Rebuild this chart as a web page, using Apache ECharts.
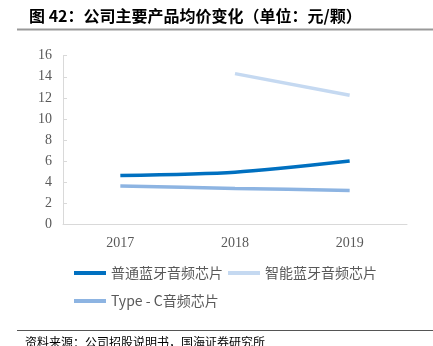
<!DOCTYPE html>
<html><head><meta charset="utf-8">
<script src="https://cdn.jsdelivr.net/npm/echarts@6/dist/echarts.min.js"></script>
<style>html,body{margin:0;padding:0;background:#fff}#c{width:433px;height:346px}</style>
</head><body><div id="c"></div>
<script>
var categories = ['2017', '2018', '2019'];
var seriesNames = ['普通蓝牙音频芯片', '智能蓝牙音频芯片', 'Type - C音频芯片'];
var normalBt = [4.64, 4.96, 6.02];
var smartBt = [null, 14.3, 12.25];
var typeC = [3.64, 3.42, 3.23];
var yTicks = [0, 2, 4, 6, 8, 10, 12, 14, 16];
var titleText = '图 42：公司主要产品均价变化（单位：元/颗）';
var sourceText = '资料来源：公司招股说明书，国海证券研究所';
var colors = ['#0070C0', '#C5D9F1', '#8DB4E2'];

var chart = echarts.init(document.getElementById('c'), null, {renderer: 'canvas'});
var legendText = {color: '#595959', fontSize: 14, fontFamily: '"Noto Sans CJK SC", "Noto Sans", sans-serif'};
chart.setOption({
  animation: false,
  color: colors,
  grid: {left: 63, right: 26, top: 55.7, bottom: 121.5, containLabel: false},
  xAxis: {
    type: 'category', data: categories, boundaryGap: true,
    axisLine: {lineStyle: {color: '#D9D9D9', width: 1}},
    axisTick: {show: false},
    axisLabel: {color: '#595959', fontSize: 14, fontFamily: '"Liberation Serif", serif', margin: 12}
  },
  yAxis: {
    type: 'value', min: yTicks[0], max: yTicks[yTicks.length - 1], interval: 2,
    axisLine: {show: true, lineStyle: {color: '#D9D9D9'}},
    axisTick: {show: true, length: 4, inside: true, lineStyle: {color: '#D9D9D9'}},
    splitLine: {show: false},
    axisLabel: {color: '#595959', fontSize: 14, fontFamily: '"Liberation Serif", serif', margin: 11}
  },
  legend: [{
    data: [seriesNames[0], seriesNames[1]], left: 74, top: 266, itemWidth: 32, itemHeight: 4,
    icon: 'rect', itemGap: 5, textStyle: legendText, padding: 0
  }, {
    data: [seriesNames[2]], left: 74, top: 294, itemWidth: 32, itemHeight: 4,
    icon: 'rect', itemGap: 5, textStyle: legendText, padding: 0
  }],
  series: [
    {name: seriesNames[0], type: 'line', data: normalBt, smooth: 0.25, symbol: 'none', lineStyle: {width: 3.5, color: colors[0]}},
    {name: seriesNames[1], type: 'line', data: smartBt, smooth: false, symbol: 'none', lineStyle: {width: 3.5, color: colors[1]}},
    {name: seriesNames[2], type: 'line', data: typeC, smooth: 0.25, symbol: 'none', lineStyle: {width: 3.5, color: colors[2]}}
  ],
  graphic: [
    {type: 'text', left: 29, top: 8, style: {text: titleText, fill: '#000', font: 'bold 16px "Noto Sans CJK SC", sans-serif'}},
    {type: 'rect', shape: {x: 17, y: 28.5, width: 416, height: 2}, style: {fill: '#999999'}},
    {type: 'rect', shape: {x: 17, y: 330, width: 416, height: 1}, style: {fill: '#555555'}},
    {type: 'text', left: 25, top: 336, style: {text: sourceText, fill: '#000', font: '12px "Noto Sans CJK SC", sans-serif'}}
  ]
});
</script></body></html>
